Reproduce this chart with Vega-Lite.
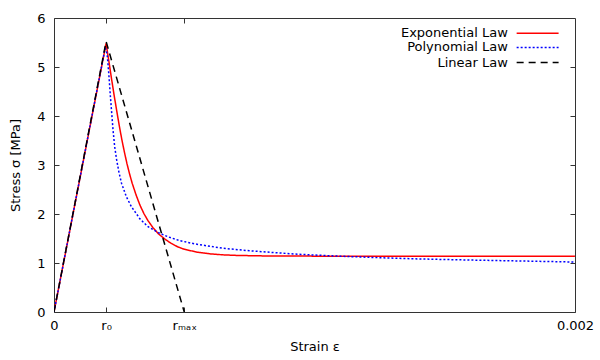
{
  "$schema": "https://vega.github.io/schema/vega-lite/v6.json",
  "width": 521,
  "height": 294,
  "autosize": {"type": "none"},
  "padding": {"left": 54, "top": 18, "right": 25, "bottom": 48},
  "background": "white",
  "config": {
    "font": "DejaVu Sans",
    "view": {"stroke": "#333333", "strokeWidth": 1},
    "axis": {
      "grid": false,
      "domain": false,
      "tickColor": "#333333",
      "tickSize": -5,
      "labelFlush": false,
      "labelFont": "DejaVu Sans",
      "labelFontSize": 13,
      "labelColor": "#000000",
      "titleFont": "DejaVu Sans",
      "titleFontSize": 13,
      "titleFontWeight": "normal",
      "titleColor": "#000000"
    }
  },
  "datasets": {
    "curves": [
      {"law": "Exponential Law", "strain": 0, "stress": 0},
      {"law": "Exponential Law", "strain": 0.0002, "stress": 5.48},
      {"law": "Exponential Law", "strain": 0.00021, "stress": 5.14},
      {"law": "Exponential Law", "strain": 0.00022, "stress": 4.79},
      {"law": "Exponential Law", "strain": 0.00023, "stress": 4.45},
      {"law": "Exponential Law", "strain": 0.00024, "stress": 4.13},
      {"law": "Exponential Law", "strain": 0.00025, "stress": 3.82},
      {"law": "Exponential Law", "strain": 0.00026, "stress": 3.53},
      {"law": "Exponential Law", "strain": 0.00027, "stress": 3.27},
      {"law": "Exponential Law", "strain": 0.00028, "stress": 3.03},
      {"law": "Exponential Law", "strain": 0.00029, "stress": 2.82},
      {"law": "Exponential Law", "strain": 0.0003, "stress": 2.63},
      {"law": "Exponential Law", "strain": 0.000315, "stress": 2.39},
      {"law": "Exponential Law", "strain": 0.00033, "stress": 2.18},
      {"law": "Exponential Law", "strain": 0.000345, "stress": 2.01},
      {"law": "Exponential Law", "strain": 0.00036, "stress": 1.87},
      {"law": "Exponential Law", "strain": 0.00038, "stress": 1.72},
      {"law": "Exponential Law", "strain": 0.0004, "stress": 1.6},
      {"law": "Exponential Law", "strain": 0.000425, "stress": 1.49},
      {"law": "Exponential Law", "strain": 0.00045, "stress": 1.4},
      {"law": "Exponential Law", "strain": 0.000475, "stress": 1.33},
      {"law": "Exponential Law", "strain": 0.0005, "stress": 1.28},
      {"law": "Exponential Law", "strain": 0.00055, "stress": 1.221},
      {"law": "Exponential Law", "strain": 0.0006, "stress": 1.186},
      {"law": "Exponential Law", "strain": 0.00065, "stress": 1.166},
      {"law": "Exponential Law", "strain": 0.0007, "stress": 1.155},
      {"law": "Exponential Law", "strain": 0.0008, "stress": 1.145},
      {"law": "Exponential Law", "strain": 0.001, "stress": 1.14},
      {"law": "Exponential Law", "strain": 0.0015, "stress": 1.14},
      {"law": "Exponential Law", "strain": 0.002, "stress": 1.14},
      {"law": "Polynomial Law", "strain": 0, "stress": 0},
      {"law": "Polynomial Law", "strain": 0.000196, "stress": 5.38},
      {"law": "Polynomial Law", "strain": 0.0002, "stress": 5.36},
      {"law": "Polynomial Law", "strain": 0.000204, "stress": 5.25},
      {"law": "Polynomial Law", "strain": 0.000207, "stress": 5.08},
      {"law": "Polynomial Law", "strain": 0.000212, "stress": 4.74},
      {"law": "Polynomial Law", "strain": 0.0002165, "stress": 4.4},
      {"law": "Polynomial Law", "strain": 0.0002265, "stress": 3.72},
      {"law": "Polynomial Law", "strain": 0.000233, "stress": 3.37},
      {"law": "Polynomial Law", "strain": 0.00024, "stress": 3.12},
      {"law": "Polynomial Law", "strain": 0.000249, "stress": 2.86},
      {"law": "Polynomial Law", "strain": 0.000259, "stress": 2.63},
      {"law": "Polynomial Law", "strain": 0.000278, "stress": 2.35},
      {"law": "Polynomial Law", "strain": 0.000297, "stress": 2.15},
      {"law": "Polynomial Law", "strain": 0.00033, "stress": 1.9},
      {"law": "Polynomial Law", "strain": 0.000361, "stress": 1.74},
      {"law": "Polynomial Law", "strain": 0.0004, "stress": 1.62},
      {"law": "Polynomial Law", "strain": 0.00044, "stress": 1.53},
      {"law": "Polynomial Law", "strain": 0.00048, "stress": 1.46},
      {"law": "Polynomial Law", "strain": 0.00054, "stress": 1.39},
      {"law": "Polynomial Law", "strain": 0.0006, "stress": 1.34},
      {"law": "Polynomial Law", "strain": 0.00065, "stress": 1.3},
      {"law": "Polynomial Law", "strain": 0.00075, "stress": 1.25},
      {"law": "Polynomial Law", "strain": 0.00085, "stress": 1.21},
      {"law": "Polynomial Law", "strain": 0.00095, "stress": 1.175},
      {"law": "Polynomial Law", "strain": 0.00105, "stress": 1.15},
      {"law": "Polynomial Law", "strain": 0.00115, "stress": 1.128},
      {"law": "Polynomial Law", "strain": 0.00125, "stress": 1.108},
      {"law": "Polynomial Law", "strain": 0.0014, "stress": 1.083},
      {"law": "Polynomial Law", "strain": 0.0016, "stress": 1.06},
      {"law": "Polynomial Law", "strain": 0.0018, "stress": 1.04},
      {"law": "Polynomial Law", "strain": 0.002, "stress": 1.02},
      {"law": "Linear Law", "strain": 0, "stress": 0},
      {"law": "Linear Law", "strain": 0.0002, "stress": 5.52},
      {"law": "Linear Law", "strain": 0.0005, "stress": 0}
    ],
    "legend": [
      {"law": "Exponential Law", "tx": 0.001742, "lx1": 0.001776, "lx2": 0.001937, "ly": 5.69},
      {"law": "Polynomial Law", "tx": 0.001742, "lx1": 0.001776, "lx2": 0.001937, "ly": 5.4},
      {"law": "Linear Law", "tx": 0.001742, "lx1": 0.001776, "lx2": 0.001937, "ly": 5.09}
    ]
  },
  "resolve": {"axis": {"x": "independent", "y": "independent"}},
  "layer": [
    {
      "data": {"name": "curves"},
      "mark": {"type": "line", "strokeWidth": 1.5, "clip": true},
      "encoding": {
        "x": {
          "field": "strain", "type": "quantitative",
          "scale": {"domain": [0, 0.002], "nice": false, "zero": false},
          "axis": {
            "orient": "bottom",
            "values": [0, 0.0002, 0.0005, 0.002],
            "labelExpr": "datum.value == 0 ? '0' : (datum.value < 0.0003 ? 'r₀' : (datum.value < 0.001 ? 'rₘₐₓ' : '0.002'))",
            "labelPadding": 12,
            "title": "Strain ε",
            "titlePadding": 8
          }
        },
        "y": {
          "field": "stress", "type": "quantitative",
          "scale": {"domain": [0, 6], "nice": false},
          "axis": {
            "orient": "left",
            "values": [0, 1, 2, 3, 4, 5, 6],
            "labelPadding": 14,
            "title": "Stress σ [MPa]",
            "titlePadding": 14
          }
        },
        "color": {
          "field": "law", "type": "nominal",
          "scale": {"domain": ["Exponential Law", "Polynomial Law", "Linear Law"], "range": ["#ff0000", "#0000ff", "#000000"]},
          "legend": null
        },
        "strokeDash": {
          "field": "law", "type": "nominal",
          "scale": {"domain": ["Exponential Law", "Polynomial Law", "Linear Law"], "range": [[1, 0], [2, 2], [7, 5]]},
          "legend": null
        }
      }
    },
    {
      "data": {"name": "legend"},
      "mark": {"type": "rule", "strokeWidth": 1.5},
      "encoding": {
        "x": {
          "field": "lx1", "type": "quantitative",
          "axis": {"orient": "top", "values": [0.0002, 0.0005], "labels": false, "title": null}
        },
        "x2": {"field": "lx2"},
        "y": {
          "field": "ly", "type": "quantitative",
          "axis": {"orient": "right", "values": [1, 2, 3, 4, 5], "labels": false, "title": null}
        },
        "color": {"field": "law", "type": "nominal", "legend": null},
        "strokeDash": {"field": "law", "type": "nominal", "legend": null}
      }
    },
    {
      "data": {"name": "legend"},
      "mark": {"type": "text", "align": "right", "baseline": "middle", "fontSize": 13, "font": "DejaVu Sans", "color": "#000000"},
      "encoding": {
        "x": {"field": "tx", "type": "quantitative", "axis": null},
        "y": {"field": "ly", "type": "quantitative", "axis": null},
        "text": {"field": "law", "type": "nominal"}
      }
    }
  ]
}
